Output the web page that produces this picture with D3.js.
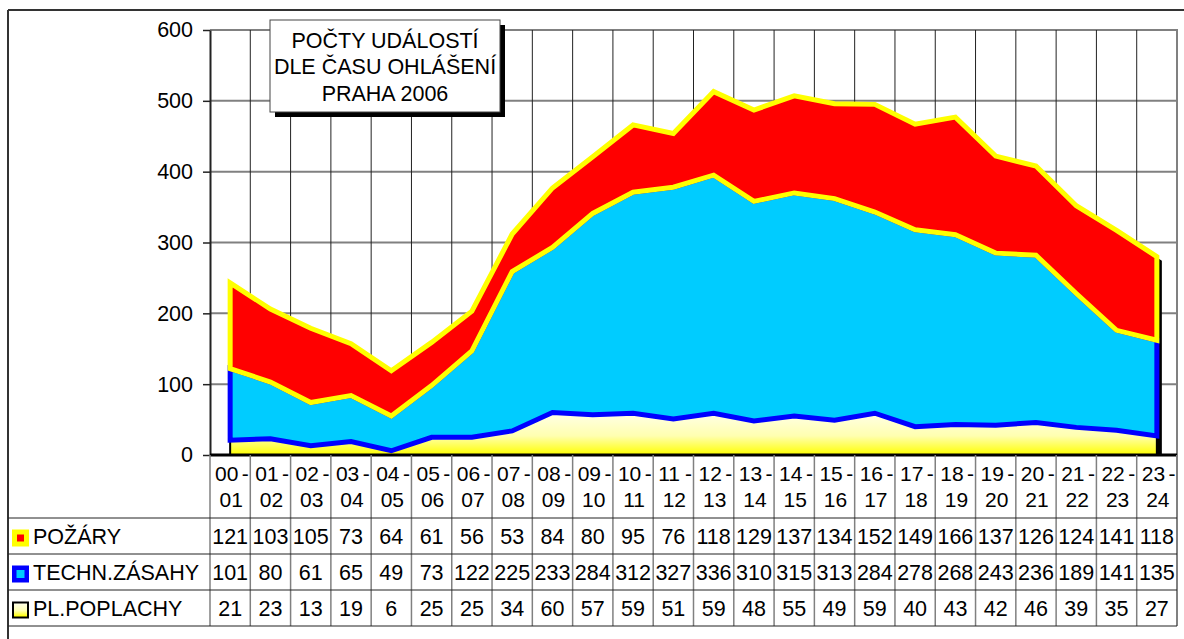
<!DOCTYPE html>
<html>
<head>
<meta charset="utf-8">
<script src="https://cdn.jsdelivr.net/npm/d3@7"></script>
<style>
  body { margin: 0; background: #fff; }
  svg { display: block; }
  text { font-family: "Liberation Sans", Arial, sans-serif; fill: #000; }
</style>
</head>
<body>
<svg id="chart" width="1184" height="639"></svg>
<script>
// hodiny ohlaseni
const hours = ["00 - 01", "01 - 02", "02 - 03", "03 - 04", "04 - 05", "05 - 06",
  "06 - 07", "07 - 08", "08 - 09", "09 - 10", "10 - 11", "11 - 12",
  "12 - 13", "13 - 14", "14 - 15", "15 - 16", "16 - 17", "17 - 18",
  "18 - 19", "19 - 20", "20 - 21", "21 - 22", "22 - 23", "23 - 24"];
const pozary = [121, 103, 105, 73, 64, 61, 56, 53, 84, 80, 95, 76, 118, 129, 137, 134, 152, 149, 166, 137, 126, 124, 141, 118];
const techn = [101, 80, 61, 65, 49, 73, 122, 225, 233, 284, 312, 327, 336, 310, 315, 313, 284, 278, 268, 243, 236, 189, 141, 135];
const poplachy = [21, 23, 13, 19, 6, 25, 25, 34, 60, 57, 59, 51, 59, 48, 55, 49, 59, 40, 43, 42, 46, 39, 35, 27];
const yTicks = [0, 100, 200, 300, 400, 500, 600];
const titleLines = ["POČTY UDÁLOSTÍ", "DLE ČASU OHLÁŠENÍ", "PRAHA 2006"];

const svg = d3.select("#chart");
const pLeft = 210, pRight = 1177, pTop = 30, pBottom = 455;

const x = d3.scaleBand().domain(hours).range([pLeft, pRight]).padding(0);
const y = d3.scaleLinear().domain([0, 600]).range([pBottom, pTop]);
const bw = x.bandwidth();
const cx = h => x(h) + bw / 2;

// gradient pro plane poplachy
const defs = svg.append("defs");
const grad = defs.append("linearGradient").attr("id", "plGrad")
  .attr("x1", 0).attr("y1", 0).attr("x2", 0).attr("y2", 1);
grad.append("stop").attr("offset", "0%").attr("stop-color", "#ffffe8");
grad.append("stop").attr("offset", "55%").attr("stop-color", "#ffffb0");
grad.append("stop").attr("offset", "100%").attr("stop-color", "#ffff00");
defs.append("clipPath").attr("id", "plotClip")
  .append("rect").attr("x", pLeft).attr("y", pTop - 10)
  .attr("width", pRight - pLeft).attr("height", pBottom - pTop + 10);

// ramecek grafu (horni a leva hrana)
svg.append("line").attr("x1", 8).attr("x2", 1184).attr("y1", 10).attr("y2", 10)
  .attr("stroke", "#333").attr("stroke-width", 2);
svg.append("line").attr("x1", 8).attr("x2", 8).attr("y1", 10).attr("y2", 639)
  .attr("stroke", "#333").attr("stroke-width", 2);

// mrizka
svg.append("g").selectAll("line").data(yTicks.filter(d => d > 0)).join("line")
  .attr("x1", pLeft).attr("x2", pRight).attr("y1", d => y(d)).attr("y2", d => y(d))
  .attr("stroke", "#808080").attr("stroke-width", 2);
svg.append("g").selectAll("line").data(hours.slice(1)).join("line")
  .attr("x1", d => x(d)).attr("x2", d => x(d)).attr("y1", pTop).attr("y2", pBottom)
  .attr("stroke", "#222").attr("stroke-width", 1);
svg.append("line").attr("x1", pRight).attr("x2", pRight).attr("y1", pTop - 1).attr("y2", pBottom)
  .attr("stroke", "#808080").attr("stroke-width", 2);

// data pro stack
const rows = hours.map((h, i) => ({ hour: h, pl: poplachy[i], techn: techn[i], poz: pozary[i] }));
const stack = d3.stack().keys(["pl", "techn", "poz"])(rows);

const area = d3.area()
  .x(d => cx(d.data.hour))
  .y0(d => y(d[0]))
  .y1(d => y(d[1]));

// stin
const plot = svg.append("g").attr("clip-path", "url(#plotClip)");
plot.append("path")
  .datum(stack[2])
  .attr("d", d3.area().x(d => cx(d.data.hour)).y0(y(0)).y1(d => y(d[1])))
  .attr("fill", "#000")
  .attr("transform", "translate(5,4)");

const styles = [
  { fill: "url(#plGrad)", stroke: "#000", sw: 2 },
  { fill: "#00ccff", stroke: "#0000ff", sw: 5 },
  { fill: "#ff0000", stroke: "#ffff00", sw: 5 }
];
svg.append("g").selectAll("path").data(stack).join("path")
  .attr("d", area)
  .attr("fill", (d, i) => styles[i].fill)
  .attr("stroke", (d, i) => styles[i].stroke)
  .attr("stroke-width", (d, i) => styles[i].sw)
  .attr("stroke-linejoin", "miter");

// osa y
const yAxis = svg.append("g").attr("transform", `translate(${pLeft},0)`)
  .call(d3.axisLeft(y).tickValues(yTicks).tickSize(7).tickPadding(10).tickSizeOuter(0));
yAxis.select(".domain").attr("stroke", "#222").attr("stroke-width", 2);
yAxis.selectAll(".tick line").attr("stroke", "#222").attr("stroke-width", 1.5);
yAxis.selectAll(".tick text").attr("font-size", 21.5).attr("font-family", "Liberation Sans, Arial, sans-serif").attr("fill", "#000");

// osa x
svg.append("line").attr("x1", pLeft).attr("x2", pRight).attr("y1", pBottom).attr("y2", pBottom)
  .attr("stroke", "#000").attr("stroke-width", 3);

// tabulka dat
const tableRows = [
  { name: "POŽÁRY", values: pozary, outer: "#ffff00", inner: "#ff0000", innerSize: 7 },
  { name: "TECHN.ZÁSAHY", values: techn, outer: "#0000ff", inner: "#00ccff", innerSize: 8 },
  { name: "PL.POPLACHY", values: poplachy, outer: "#000", inner: "url(#plGrad)", innerSize: 13 }
];
const rowTop = [518, 554, 590];
const rowH = 36;
const tableBottom = 626;

// svisle cary tabulky
svg.append("g").selectAll("line").data(hours).join("line")
  .attr("x1", d => x(d)).attr("x2", d => x(d)).attr("y1", pBottom).attr("y2", tableBottom)
  .attr("stroke", "#808080").attr("stroke-width", 1.5);
svg.append("line").attr("x1", pRight).attr("x2", pRight).attr("y1", pBottom).attr("y2", tableBottom)
  .attr("stroke", "#808080").attr("stroke-width", 2);
// vodorovne cary
svg.append("g").selectAll("line").data(rowTop.concat([tableBottom])).join("line")
  .attr("x1", 8).attr("x2", pRight).attr("y1", d => d).attr("y2", d => d)
  .attr("stroke", "#222").attr("stroke-width", 1);

// popisky hodin: "00 -" / "01"
const hdr = svg.append("g");
hdr.selectAll("text.a").data(hours).join("text").attr("class", "a")
  .attr("x", d => x(d) + 5).attr("y", 481).attr("font-size", 21)
  .text(d => d.split(" ")[0]);
hdr.selectAll("text.dash").data(hours).join("text").attr("class", "dash")
  .attr("x", d => x(d) + bw - 1.5).attr("y", 481).attr("font-size", 21)
  .attr("text-anchor", "end").text(d => d.split(" ")[1]);
hdr.selectAll("text.b").data(hours).join("text").attr("class", "b")
  .attr("x", d => cx(d) + 1).attr("y", 507).attr("font-size", 21)
  .attr("text-anchor", "middle").text(d => d.split(" ")[2]);

// radky hodnot
tableRows.forEach((r, ri) => {
  const ty = rowTop[ri] + rowH / 2 + 0.5;
  const g = svg.append("g");
  g.append("rect").attr("x", 12).attr("y", ty - 7).attr("width", 17).attr("height", 17)
    .attr("fill", r.outer);
  g.append("rect").attr("x", 12 + (17 - r.innerSize) / 2).attr("y", ty - 7 + (17 - r.innerSize) / 2)
    .attr("width", r.innerSize).attr("height", r.innerSize).attr("fill", r.inner);
  g.append("text").attr("x", 33).attr("y", ty).attr("dy", "0.36em")
    .attr("font-size", 21.5).text(r.name);
  g.selectAll("text.v").data(r.values).join("text").attr("class", "v")
    .attr("x", (d, i) => cx(hours[i])).attr("y", ty).attr("dy", "0.36em")
    .attr("text-anchor", "middle").attr("font-size", 21.5).text(d => d);
});

// titulek
const tb = { x: 270, y: 20, w: 230, h: 92 };
svg.append("rect").attr("x", tb.x + 5).attr("y", tb.y + 5).attr("width", tb.w).attr("height", tb.h)
  .attr("fill", "#000");
svg.append("rect").attr("x", tb.x).attr("y", tb.y).attr("width", tb.w).attr("height", tb.h)
  .attr("fill", "#fff").attr("stroke", "#444").attr("stroke-width", 1);
svg.append("g").selectAll("text").data(titleLines).join("text")
  .attr("x", tb.x + tb.w / 2).attr("y", (d, i) => tb.y + 27.5 + i * 26.7)
  .attr("text-anchor", "middle").attr("font-size", 21.5).text(d => d);
</script>
</body>
</html>
